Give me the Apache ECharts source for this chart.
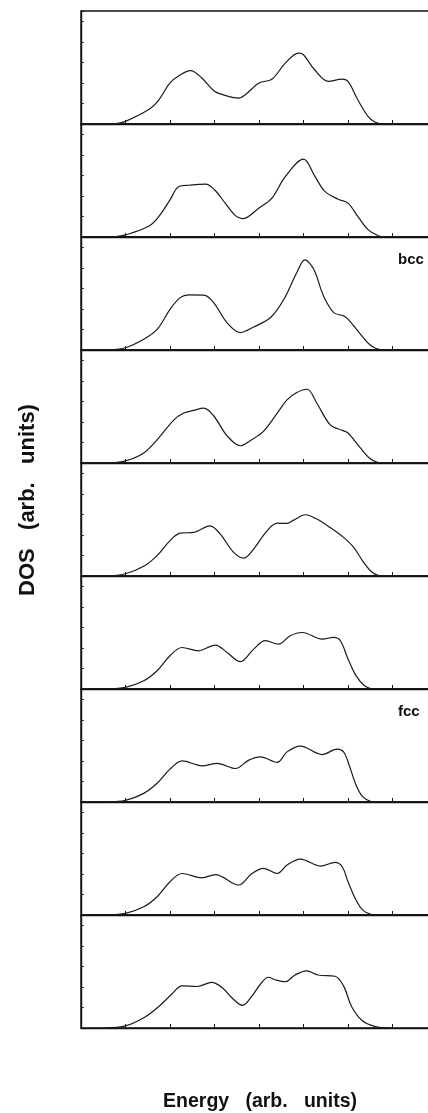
<!DOCTYPE html>
<html>
<head>
<meta charset="utf-8">
<script src="https://cdn.jsdelivr.net/npm/echarts@6/dist/echarts.min.js"></script>
<style>
  html, body { margin: 0; padding: 0; background: #ffffff; }
  #chart { width: 428px; height: 1113px; }
</style>
</head>
<body>
<div id="chart"></div>
<script>
// Density of states curves, one per stacked panel (energy, DOS) in arbitrary units
const dos1 = [[0.74,0],[1,0.13],[1.52,0.70],[1.75,1.18],[2.0,2.0],[2.2,2.35],[2.46,2.6],[2.72,2.23],[3,1.59],[3.24,1.39],[3.54,1.26],[3.69,1.42],[4,2.0],[4.29,2.18],[4.59,2.96],[4.89,3.45],[5.0,3.37],[5.25,2.64],[5.56,2.07],[5.86,2.18],[6,2.07],[6.22,1.18],[6.45,0.37],[6.6,0.1],[6.76,0]];
const dos2 = [[0.74,0],[1,0.1],[1.52,0.52],[1.75,1.0],[2,1.81],[2.2,2.46],[2.42,2.52],[2.8,2.57],[3,2.3],[3.24,1.65],[3.47,1.04],[3.63,0.89],[4,1.41],[4.29,1.89],[4.59,2.94],[5,3.79],[5.26,2.94],[5.48,2.22],[5.78,1.84],[6,1.65],[6.22,1.0],[6.45,0.36],[6.68,0.06],[6.83,0]];
const dos3 = [[0.65,0],[1,0.11],[1.41,0.52],[1.71,1.0],[2,1.98],[2.23,2.55],[2.42,2.68],[2.76,2.67],[2.98,2.31],[3.28,1.33],[3.58,0.85],[3.88,1.12],[4.26,1.58],[4.56,2.47],[4.85,3.77],[5.03,4.39],[5.23,3.93],[5.45,2.63],[5.68,1.82],[5.9,1.66],[6,1.5],[6.25,0.85],[6.48,0.28],[6.63,0.07],[6.8,0]];
const dos4 = [[0.65,0],[1,0.1],[1.41,0.49],[1.71,1.13],[2.09,2.1],[2.31,2.43],[2.53,2.56],[2.76,2.67],[2.98,2.3],[3.28,1.33],[3.58,0.84],[3.81,1.1],[4.1,1.54],[4.41,2.43],[4.63,3.07],[4.85,3.43],[5.08,3.59],[5.3,2.91],[5.6,1.86],[5.87,1.59],[6,1.46],[6.25,0.81],[6.48,0.24],[6.66,0.03],[6.8,0]];
const dos5 = [[0.65,0],[1,0.11],[1.41,0.47],[1.71,0.99],[2,1.72],[2.23,2.09],[2.53,2.12],[2.9,2.44],[3.13,2.04],[3.43,1.15],[3.66,0.87],[3.88,1.31],[4.18,2.2],[4.41,2.57],[4.63,2.56],[4.78,2.72],[5.04,2.98],[5.3,2.77],[5.6,2.36],[5.9,1.88],[6.13,1.39],[6.35,0.66],[6.54,0.18],[6.69,0.02],[6.8,0]];
const dos6 = [[0.6,0],[1,0.08],[1.41,0.4],[1.71,0.89],[2,1.62],[2.27,2.02],[2.64,1.86],[3.02,2.14],[3.28,1.78],[3.58,1.33],[3.88,1.94],[4.14,2.35],[4.44,2.18],[4.7,2.59],[4.97,2.75],[5.42,2.43],[5.68,2.51],[5.83,2.35],[6,1.46],[6.18,0.65],[6.37,0.16],[6.55,0]];
const dos7 = [[0.6,0],[1,0.08],[1.41,0.42],[1.71,0.91],[2,1.6],[2.27,2.0],[2.72,1.76],[3.06,1.88],[3.47,1.63],[3.77,2.04],[4.03,2.2],[4.41,1.93],[4.63,2.44],[4.93,2.72],[5.42,2.31],[5.75,2.57],[5.9,2.44],[6,1.96],[6.18,0.83],[6.33,0.26],[6.52,0.02],[6.63,0]];
const dos8 = [[0.6,0],[1,0.08],[1.41,0.4],[1.71,0.89],[2,1.62],[2.27,2.02],[2.72,1.81],[3.02,1.97],[3.54,1.46],[3.84,2.02],[4.1,2.27],[4.41,2.02],[4.63,2.43],[4.93,2.72],[5.38,2.38],[5.71,2.56],[5.87,2.35],[6,1.62],[6.18,0.73],[6.33,0.24],[6.52,0.03],[6.63,0]];
const dos9 = [[0.55,0],[1,0.1],[1.45,0.55],[1.75,1.05],[2.05,1.67],[2.27,2.05],[2.61,2.02],[2.94,2.22],[3.17,1.97],[3.39,1.47],[3.63,1.1],[3.84,1.55],[4.03,2.13],[4.21,2.47],[4.36,2.35],[4.59,2.25],[4.81,2.58],[5.07,2.78],[5.33,2.58],[5.71,2.52],[5.9,2.05],[6.08,1.05],[6.31,0.38],[6.6,0.08],[6.97,0]];

const panels = [dos1, dos2, dos3, dos4, dos5, dos6, dos7, dos8, dos9];
// Structure labels and the panel each one sits in
const panelLabels = ['', '', 'bcc', '', '', '', 'fcc', '', ''];

const xTitle = 'Energy   (arb.   units)';
const yTitle = 'DOS   (arb.   units)';

const PANEL_TOP = 11;
const PANEL_H = 113;
const PANEL_LEFT = 81;
const PANEL_W = 356;
const INK = '#111111';
const FONT = '"Liberation Sans", Arial, Helvetica, sans-serif';

const grids = [], xAxes = [], yAxes = [], series = [], graphics = [];

panels.forEach((data, i) => {
  grids.push({
    left: PANEL_LEFT, top: PANEL_TOP + i * PANEL_H,
    width: PANEL_W, height: PANEL_H,
    outerBoundsMode: 'none', containLabel: false,
    show: true, borderColor: INK, borderWidth: 1.4, backgroundColor: 'transparent'
  });
  xAxes.push({
    type: 'value', gridIndex: i, min: 0, max: 8, interval: 1,
    axisLine: { show: true, onZero: false, lineStyle: { color: INK, width: 1.4 } },
    axisTick: { show: true, inside: true, length: 4, lineStyle: { color: INK, width: 1 } },
    axisLabel: { show: false },
    splitLine: { show: false }
  });
  yAxes.push({
    type: 'value', gridIndex: i, min: 0, max: 5.5, interval: 1,
    axisLine: { show: true, lineStyle: { color: INK, width: 1.4 } },
    axisTick: { show: true, inside: true, length: 3, lineStyle: { color: INK, width: 0.8 } },
    axisLabel: { show: false },
    splitLine: { show: false }
  });
  series.push({
    type: 'line', xAxisIndex: i, yAxisIndex: i, data: data,
    smooth: 0.35, symbol: 'none',
    lineStyle: { color: '#1a1a1a', width: 1.2 },
    silent: true, animation: false
  });
  if (panelLabels[i]) {
    graphics.push({
      type: 'text', left: 398, top: PANEL_TOP + i * PANEL_H + 15,
      style: { text: panelLabels[i], font: 'bold 15px ' + FONT, fill: INK }
    });
  }
});

// Axis titles
graphics.push({
  type: 'text', x: 260, y: 1102,
  style: { text: xTitle, font: 'bold 19.5px ' + FONT, fill: INK, align: 'center', verticalAlign: 'middle' }
});
graphics.push({
  type: 'text', x: 28, y: 500, rotation: Math.PI / 2,
  style: { text: yTitle, font: 'bold 22px ' + FONT, fill: INK, align: 'center', verticalAlign: 'middle' }
});

const chart = echarts.init(document.getElementById('chart'), null, { renderer: 'canvas' });
chart.setOption({
  backgroundColor: '#ffffff',
  animation: false,
  grid: grids,
  xAxis: xAxes,
  yAxis: yAxes,
  series: series,
  graphic: graphics
});
</script>
</body>
</html>
